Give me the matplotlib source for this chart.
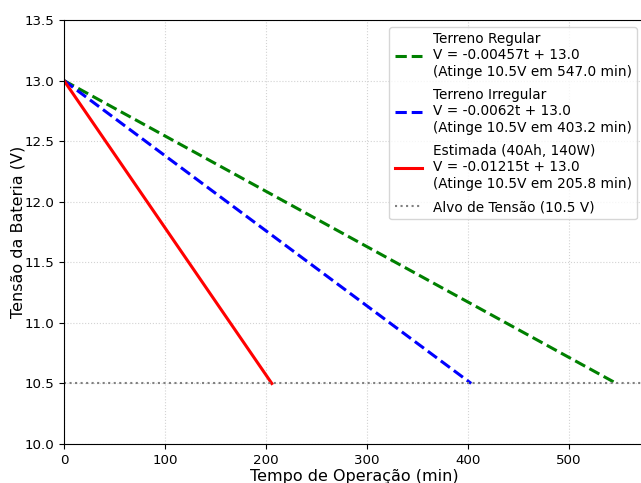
import numpy as np
import matplotlib
matplotlib.use("Agg")
import matplotlib.pyplot as plt

# dados das curvas de descarga
v0 = 13.0
v_alvo = 10.5
nomes = ["Terreno Regular", "Terreno Irregular", "Estimada (40Ah, 140W)"]
taxas = [-0.00457, -0.0062, -0.01215]
tempos_alvo = [547.0, 403.2, 205.8]
cores = ["green", "blue", "red"]
estilos = ["--", "--", "-"]

fig = plt.figure(figsize=(6.41, 4.83), dpi=100)
ax = fig.add_axes([64 / 641, (483 - 444) / 483, (644 - 64) / 641, (444 - 20) / 483])

for nome, k, t_fim, cor, ls in zip(nomes, taxas, tempos_alvo, cores, estilos):
    t = np.array([0, t_fim])
    v = v0 + k * t
    rotulo = f"{nome}\nV = {k}t + {v0}\n(Atinge 10.5V em {t_fim} min)"
    ax.plot(t, v, color=cor, linestyle=ls, linewidth=2.2, label=rotulo)

ax.axhline(v_alvo, color="gray", linestyle=":", linewidth=1.5, label="Alvo de Tensão (10.5 V)")

ax.set_xlim(0, max(tempos_alvo) * 1.05)
ax.set_ylim(10.0, 13.5)
ax.set_xlabel("Tempo de Operação (min)", fontsize=11.5, labelpad=2)
ax.set_ylabel("Tensão da Bateria (V)", fontsize=11.5)
ax.yaxis.set_label_coords(-0.066, 0.5)
ax.tick_params(labelsize=9.6)
ax.grid(True, linestyle=":", color="lightgray")
ax.legend(loc="upper right", fontsize=9.8, labelspacing=0.7)

fig.savefig("out.png", dpi=100)
